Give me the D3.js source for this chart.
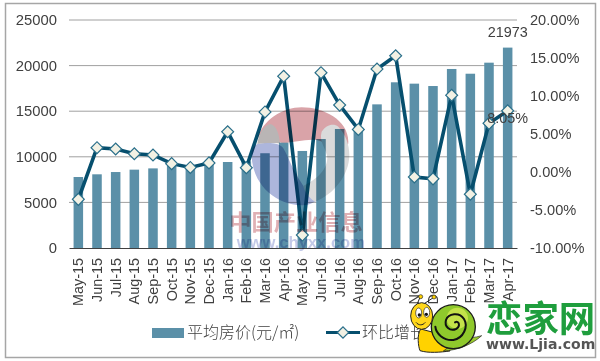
<!DOCTYPE html>
<html>
<head>
<meta charset="utf-8">
<script src="https://d3js.org/d3.v7.min.js"></script>
<style>
html, body { margin: 0; padding: 0; background: #fff; }
svg { filter: blur(0.35px); }
text { font-family: "Liberation Sans", Arial, sans-serif; fill: #404040; }
</style>
</head>
<body>
<svg id="chart"></svg>
<script>
const months = ['May-15','Jun-15','Jul-15','Aug-15','Sep-15','Oct-15','Nov-15','Dec-15','Jan-16','Feb-16','Mar-16','Apr-16',
    'May-16','Jun-16','Jul-16','Aug-16','Sep-16','Oct-16','Nov-16','Dec-16','Jan-17','Feb-17','Mar-17','Apr-17'];
const prices = [7785,8080,8330,8590,8730,9000,9100,9200,9430,9500,10390,11550,10640,11950,13050,13250,15750,18170,18020,17760,19630,19110,20320,21973];
const growth = [-3.6,3.2,3.03,2.4,2.24,1.1,0.6,1.2,5.3,0.57,7.9,12.6,-8.3,13.07,8.8,5.6,13.55,15.3,-0.66,-0.9,10.1,-2.93,6.4,8.05];
const leftTicks = [0,5000,10000,15000,20000,25000];
const rightTicks = [-10,-5,0,5,10,15,20];

const width = 600, height = 361;
const margin = { top: 20, right: 83, bottom: 113, left: 69 };
const innerW = width - margin.left - margin.right;
const innerH = height - margin.top - margin.bottom;

const svg = d3.select('#chart').attr('width', width).attr('height', height).style('display', 'block');

// outer frame
svg.append('rect').attr('x', 5.5).attr('y', 3.5).attr('width', 590).attr('height', 354)
    .attr('fill', '#fff').attr('stroke', '#a6a6a6').attr('stroke-width', 1.5);

const chart = svg.append('g').attr('transform', `translate(${margin.left},${margin.top})`);

const x = d3.scaleBand().domain(months).range([0, innerW]).paddingInner(0.49).paddingOuter(0.245);
const yLeft = d3.scaleLinear().domain([0, 25000]).range([innerH, 0]);
const yRight = d3.scaleLinear().domain([-10, 20]).range([innerH, 0]);
const xMid = d => x(d) + x.bandwidth() / 2;

// gridlines
chart.append('g').selectAll('line').data(leftTicks.slice(1)).join('line')
    .attr('x1', 0).attr('x2', innerW)
    .attr('y1', d => yLeft(d)).attr('y2', d => yLeft(d))
    .attr('stroke', '#a0a0a0').attr('stroke-width', 1);

// bars
chart.append('g').selectAll('rect').data(prices).join('rect')
    .attr('x', (d, i) => x(months[i]))
    .attr('y', d => yLeft(d))
    .attr('width', x.bandwidth())
    .attr('height', d => innerH - yLeft(d))
    .attr('fill', '#5b90a8');

// axes
const leftAxis = chart.append('g')
    .call(d3.axisLeft(yLeft).tickValues(leftTicks).tickSize(0).tickPadding(12).tickFormat(d3.format('d')));
leftAxis.select('.domain').remove();
leftAxis.selectAll('text').style('font-size', '14.8px');

const rightAxis = chart.append('g').attr('transform', `translate(${innerW},0)`)
    .call(d3.axisRight(yRight).tickValues(rightTicks).tickSize(0).tickPadding(13).tickFormat(d => d.toFixed(2) + '%'));
rightAxis.select('.domain').remove();
rightAxis.selectAll('text').style('font-size', '14.6px');

const bottomAxis = chart.append('g').attr('transform', `translate(0,${innerH})`)
    .call(d3.axisBottom(x).tickSize(0));
bottomAxis.select('.domain').attr('stroke', '#404040').attr('stroke-width', 1);
bottomAxis.selectAll('text')
    .style('font-size', '14.4px')
    .attr('text-anchor', 'end')
    .attr('dy', null)
    .attr('y', 0)
    .attr('transform', 'translate(0,10) rotate(-90)')
    .attr('dominant-baseline', 'central');

// line series
const line = d3.line().x((d, i) => xMid(months[i])).y(d => yRight(d));
chart.append('path').datum(growth)
    .attr('d', line).attr('fill', 'none')
    .attr('stroke', '#064f6e').attr('stroke-width', 3.6).attr('stroke-linejoin', 'miter');

chart.append('g').selectAll('rect').data(growth).join('rect')
    .attr('x', -4.2).attr('y', -4.2).attr('width', 8.4).attr('height', 8.4)
    .attr('transform', (d, i) => `translate(${xMid(months[i])},${yRight(d)}) rotate(45)`)
    .attr('fill', '#f2f1e4').attr('stroke', '#2a6f8a').attr('stroke-width', 1.2);

// data labels for the last point
const lastMonth = months[months.length - 1];
chart.append('text').attr('x', xMid(lastMonth)).attr('y', yLeft(prices[23]) - 11)
    .attr('text-anchor', 'middle').style('font-size', '14.4px').text('21973');
chart.append('text').attr('x', xMid(lastMonth)).attr('y', yRight(growth[23]) + 12)
    .attr('text-anchor', 'middle').style('font-size', '14.4px').text('8.05%');

// legend
const legend = svg.append('g');
legend.append('rect').attr('x', 152).attr('y', 328).attr('width', 32).attr('height', 10).attr('fill', '#5b90a8');
legend.append('text').attr('x', 187).attr('y', 338).style('font-size', '16px').style('font-family', '"Noto Sans CJK SC"').style('font-weight', 300).text('平均房价(元/㎡)');
legend.append('line').attr('x1', 326).attr('x2', 360).attr('y1', 332.5).attr('y2', 332.5).attr('stroke', '#064f6e').attr('stroke-width', 3);
legend.append('rect').attr('x', -4).attr('y', -4).attr('width', 8).attr('height', 8)
    .attr('transform', 'translate(343,332.5) rotate(45)')
    .attr('fill', '#f2f1e4').attr('stroke', '#2a6f8a').attr('stroke-width', 1.2);
legend.append('text').attr('x', 362).attr('y', 338).style('font-size', '16px').style('font-family', '"Noto Sans CJK SC"').style('font-weight', 300).text('环比增长');

// centre watermark, shapes written in crop coordinates
const mark = svg.append('g').attr('transform', 'translate(220,100) scale(0.3333)').style('mix-blend-mode', 'multiply');
mark.append('path').attr('fill', '#d9a3a8')
    .attr('d', 'M112,120 C125,60 190,22 245,22 C310,22 385,60 385,125 C385,140 378,148 365,150 C340,152 320,125 290,120 C260,115 215,130 185,128 C160,125 150,100 135,100 C122,100 115,110 112,120 Z');
mark.append('path').attr('fill', '#adb6dc')
    .attr('d', 'M95,165 C95,145 105,130 125,130 C150,128 178,128 190,145 C205,170 215,205 245,250 C260,275 275,290 292,300 C275,312 260,316 245,316 C165,316 95,250 95,165 Z');
mark.append('path').attr('fill', '#dadada')
    .attr('d', 'M305,95 C318,75 340,68 355,80 C378,105 388,135 388,165 C388,225 340,285 285,305 C262,290 250,265 250,258 C285,240 320,215 322,175 C322,150 295,125 305,95 Z');
mark.append('path').attr('fill', '#b9b5b5')
    .attr('d', 'M112,132 C115,105 130,78 150,72 C170,75 178,105 180,130 C160,128 130,128 112,132 Z');
mark.append('text').attr('x', 28).attr('y', 390).attr('textLength', 400)
    .attr('lengthAdjust', 'spacingAndGlyphs')
    .style('font-family', '"Noto Sans CJK SC"').style('font-weight', 700).style('font-size', '66px')
    .style('fill', '#e0b0b4').text('中国产业信息');
mark.append('text').attr('x', 50).attr('y', 444).attr('textLength', 385)
    .attr('lengthAdjust', 'spacingAndGlyphs')
    .style('font-weight', 700).style('font-size', '52px')
    .style('fill', '#c3c9e8').text('www.chyxx.com');

// site logo in the corner, written in crop coordinates
const logo = svg.append('g').attr('transform', 'translate(400,285) scale(0.3333)');
logo.append('path').attr('fill', '#ffd200').attr('stroke', '#222').attr('stroke-width', 3)
    .attr('d', 'M62,132 C50,150 55,185 60,197 C85,205 120,202 150,198 L130,150 Z');
logo.append('path').attr('fill', '#9ccc2c').attr('stroke', '#222').attr('stroke-width', 2)
    .attr('d', 'M130,198 C170,196 215,180 245,152 C225,158 205,160 190,155 Z');
logo.append('circle').attr('cx', 160).attr('cy', 125).attr('r', 66)
    .attr('fill', '#8fc92c').attr('stroke', '#1a1a1a').attr('stroke-width', 4);
logo.append('circle').attr('cx', 172).attr('cy', 100).attr('r', 32).attr('fill', '#c4e24a');
logo.append('path').attr('fill', 'none').attr('stroke', '#111').attr('stroke-width', 6).attr('stroke-linecap', 'round')
    .attr('d', 'M165,112 C178,105 182,125 168,132 C150,140 132,125 138,105 C145,85 178,80 192,102 C206,125 190,160 160,165 C130,168 108,145 106,125');
logo.append('ellipse').attr('cx', 65).attr('cy', 93).attr('rx', 33).attr('ry', 40)
    .attr('fill', '#ffd71a').attr('stroke', '#222').attr('stroke-width', 3);
logo.append('ellipse').attr('cx', 56).attr('cy', 84).attr('rx', 9).attr('ry', 15).attr('fill', '#fff').attr('stroke', '#222').attr('stroke-width', 2);
logo.append('ellipse').attr('cx', 80).attr('cy', 82).attr('rx', 9).attr('ry', 15).attr('fill', '#fff').attr('stroke', '#222').attr('stroke-width', 2);
logo.append('circle').attr('cx', 58).attr('cy', 90).attr('r', 5).attr('fill', '#111');
logo.append('circle').attr('cx', 79).attr('cy', 88).attr('r', 5).attr('fill', '#111');
logo.append('path').attr('fill', 'none').attr('stroke', '#222').attr('stroke-width', 3)
    .attr('d', 'M48,112 C56,122 68,122 76,112 M52,56 L60,37 M74,55 L100,38');
logo.append('circle').attr('cx', 62).attr('cy', 35).attr('r', 6).attr('fill', '#ffd200').attr('stroke', '#222').attr('stroke-width', 2);
logo.append('circle').attr('cx', 102).attr('cy', 36).attr('r', 6).attr('fill', '#ffd200').attr('stroke', '#222').attr('stroke-width', 2);
logo.append('text').attr('x', 258).attr('y', 140).attr('textLength', 328)
    .attr('lengthAdjust', 'spacingAndGlyphs')
    .style('font-family', '"Noto Sans CJK SC"').style('font-weight', 700).style('font-size', '108px')
    .style('fill', '#1f9e3d').text('恋家网');
logo.append('text').attr('x', 258).attr('y', 191).attr('textLength', 328)
    .attr('lengthAdjust', 'spacingAndGlyphs')
    .style('font-family', '"DejaVu Sans"').style('font-weight', 700).style('font-size', '42px')
    .style('fill', '#555').text('www.Ljia.com');
</script>
</body>
</html>
